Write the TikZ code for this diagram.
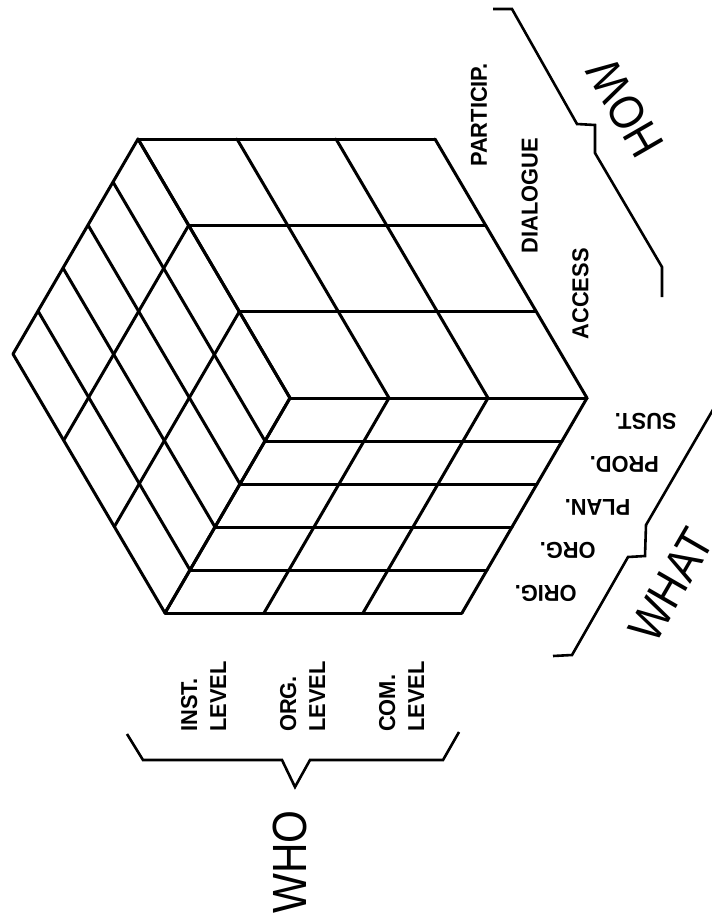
\documentclass[tikz,border=0pt]{standalone}
\usepackage{fontspec}
\setmainfont{Liberation Sans}
\newfontfamily\axisfont[FakeStretch=0.88]{Liberation Sans}
\newfontfamily\itemfont[FakeStretch=0.95]{Liberation Sans}
\usepackage{tikz}
\usetikzlibrary{calc}

\tikzset{
  cubeline/.style={line width=3pt, line cap=round},
  braceline/.style={line width=2.6pt, line join=miter},
  itemlabel/.style={font=\itemfont\bfseries\fontsize{23}{29}\selectfont, inner sep=0pt},
  axislabel/.style={font=\axisfont\fontsize{48}{48}\selectfont, inner sep=0pt}
}

\begin{document}
\begin{tikzpicture}[x=1pt, y=-1pt]
  \useasboundingbox (0,0) rectangle (712,922);
  \clip (0,0) rectangle (712,922);

  % cube corners
  \coordinate (TR) at (435,139);
  \coordinate (R) at (587,398);
  \coordinate (BR) at (462,613);
  \coordinate (TL) at ($(TR)+(-297,0)$);
  \coordinate (C) at ($(R)+(-297,0)$);
  \coordinate (BL) at ($(BR)+(-297,0)$);
  \coordinate (L) at ($(TL)+(BR)-(R)$);

  % upper face: 3 x 3
  \foreach \i in {0,...,3} {
    \draw[cubeline] ($(TL)!\i/3!(C)$) -- ($(TR)!\i/3!(R)$);
    \draw[cubeline] ($(TL)!\i/3!(TR)$) -- ($(C)!\i/3!(R)$);
  }
  % front face: 3 x 5
  \foreach \i in {0,...,5}
    \draw[cubeline] ($(C)!\i/5!(BL)$) -- ($(R)!\i/5!(BR)$);
  \foreach \i in {0,...,3}
    \draw[cubeline] ($(C)!\i/3!(R)$) -- ($(BL)!\i/3!(BR)$);
  % side face: 3 x 5
  \foreach \i in {0,...,5}
    \draw[cubeline] ($(TL)!\i/5!(L)$) -- ($(C)!\i/5!(BL)$);
  \foreach \i in {0,...,3}
    \draw[cubeline] ($(TL)!\i/3!(C)$) -- ($(L)!\i/3!(BL)$);

  % HOW
  \foreach \k/\txt in {0/PARTICIP., 1/DIALOGUE, 2/ACCESS}
    \node[itemlabel, rotate=90, anchor=west] (how\k) at ($(TR)!\k/3!(R)+(44,28)$) {\txt};
  \draw[braceline] (493,9) -- (512,9) -- (577,124) -- (595,125) -- (595,153) -- (662,267) -- (662,297);
  \node[axislabel, rotate=120] (how) at (625,108) {HOW};

  % WHAT
  \foreach \k/\txt in {0/SUST., 1/PROD., 2/PLAN., 3/ORG., 4/ORIG.}
    \node[itemlabel, rotate=180, anchor=east] (what\k) at ($(R)!{(\k+0.5)/5}!(BR)+(40,2)$) {\txt};
  \draw[braceline] (553,656) -- (572,655) -- (628,557) -- (645,556) -- (646,525) -- (725,389);
  \node[axislabel, rotate=60] (what) at (671,585) {WHAT};

  % WHO
  \foreach \k/\txt in {0/INST., 1/ORG., 2/COM.}
    \node[itemlabel, rotate=90, anchor=west, align=left] (who\k) at ($(BL)!{(\k+0.5)/3}!(BR)+(-11,119)$) {\txt\\LEVEL};
  \draw[braceline] (127,734) -- (143,760) -- (282,760) -- (295,787) -- (310,760) -- (443,760) -- (459,732);
  \node[axislabel, rotate=90] (who) at (290,862) {WHO};
\end{tikzpicture}
\end{document}
